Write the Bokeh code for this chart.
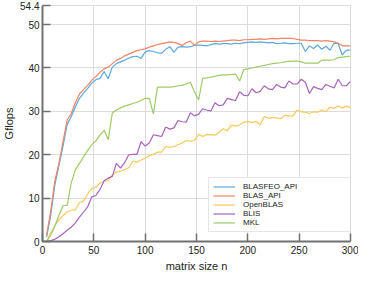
from bokeh.plotting import figure
from bokeh.models import FixedTicker, CustomJSTickFormatter, Legend, LegendItem, Title
from bokeh.embed import file_html
from bokeh.resources import INLINE

n = list(range(4, 301, 4))

blasfeo_api = [1.0, 6.0, 13.0, 17.5, 22.0, 27.0, 28.8, 31.0, 33.0, 34.2,
               35.3, 36.5, 37.3, 37.6, 39.2, 37.5, 40.2, 41.0, 41.4, 41.8,
               42.3, 42.6, 42.7, 42.2, 43.7, 44.0, 43.8, 43.5, 43.4, 44.3,
               44.9, 43.6, 44.8, 44.9, 44.8, 44.9, 45.2, 45.3, 45.2, 45.1,
               45.4, 45.6, 45.5, 45.6, 45.6, 45.5, 45.7, 45.6, 45.8, 45.9,
               46.0, 45.9, 46.0, 45.9, 45.8, 45.9, 45.6, 45.7, 45.8, 45.6,
               45.6, 45.7, 45.7, 43.8, 45.1, 44.5, 45.3, 44.3, 45.0, 44.1,
               45.7, 45.6, 43.0, 44.1, 44.1]

blas_api = [1.5, 7.0, 14.0, 18.0, 23.0, 28.0, 29.5, 32.0, 34.0, 35.0,
            36.0, 37.2, 38.0, 39.0, 39.8, 40.2, 41.0, 41.8, 42.2, 42.8,
            43.2, 43.6, 44.0, 44.2, 44.4, 44.8, 45.1, 45.4, 45.6, 45.8,
            46.0, 45.9, 45.6, 45.2, 45.8, 46.2, 45.2, 46.0, 46.2, 46.2,
            46.1, 46.2, 46.1, 46.2, 46.3, 46.4, 46.4, 46.3, 46.5, 46.5,
            46.6, 46.6, 46.7, 46.6, 46.7, 46.8, 46.7, 46.8, 46.8, 46.8,
            46.8, 46.6, 46.4, 46.4, 46.3, 46.3, 46.3, 46.2, 46.3, 46.2,
            46.0, 45.7, 45.1, 45.1, 45.1]

openblas = [0.0, 2.0, 3.7, 5.0, 6.0, 6.8, 7.2, 7.3, 9.0, 9.3,
            11.0, 12.2, 12.5, 13.5, 13.9, 14.0, 15.3, 16.0, 16.2, 16.6,
            17.0, 18.5, 18.3, 18.8, 19.2, 19.8, 20.1, 20.6, 20.6, 21.9,
            21.7, 21.9, 22.3, 22.7, 23.3, 23.1, 23.3, 24.7, 24.2, 24.7,
            24.6, 24.5, 25.2, 26.0, 25.5, 26.9, 26.6, 26.9, 27.5, 27.7,
            27.4, 27.7, 26.9, 28.8, 28.4, 28.6, 28.5, 28.3, 29.1, 28.9,
            29.0, 30.3, 29.9, 29.8, 29.5, 29.9, 29.8, 30.3, 29.9, 31.0,
            30.7, 31.2, 30.8, 31.2, 30.8]

blis = [0.0, 0.2, 0.5, 1.1, 1.8, 2.6, 3.3, 4.3, 5.6, 6.8,
        8.0, 10.3, 10.6, 12.0, 14.0, 14.6, 15.0, 18.0, 16.9, 18.2,
        20.0, 20.1, 20.1, 23.0, 22.0, 22.7, 24.6, 24.4, 24.2, 26.4,
        25.9, 26.2, 27.9, 27.6, 27.5, 29.7, 29.0, 29.3, 30.6, 30.3,
        30.1, 32.0, 31.3, 31.5, 33.0, 32.7, 32.5, 34.5, 33.7, 33.6,
        35.2, 34.3, 34.6, 35.9, 35.2, 35.0, 36.2, 35.6, 35.4, 37.0,
        36.3, 36.3, 37.4, 36.7, 34.1, 35.7, 35.3, 35.0, 36.2, 35.8,
        35.4, 37.4, 35.9, 35.9, 36.9]

mkl = [0.0, 1.5, 3.5, 6.0, 8.3, 8.3, 13.5, 16.5, 18.0, 19.5,
       21.0, 22.3, 23.2, 24.5, 25.7, 23.5, 29.6, 30.3, 30.8, 31.2,
       31.5, 31.8, 32.1, 32.5, 33.0, 33.0, 29.4, 35.6, 35.6, 35.6,
       35.6, 35.7, 35.9, 36.0, 36.3, 36.7, 34.5, 32.6, 37.6, 37.7,
       37.9, 38.1, 38.3, 38.4, 38.4, 38.5, 38.6, 37.0, 39.6, 39.8,
       40.0, 40.2, 40.4, 40.6, 40.8, 41.0, 41.1, 41.2, 41.4, 41.5,
       41.6, 41.6, 41.4, 41.1, 41.1, 41.1, 41.1, 41.8, 41.8, 41.8,
       41.9, 42.4, 42.5, 42.6, 42.7]

series_names = ["BLASFEO_API", "BLAS_API", "OpenBLAS", "BLIS", "MKL"]
series_values = [blasfeo_api, blas_api, openblas, blis, mkl]
series_colors = ["#5aa9e0", "#f08463", "#f8c95c", "#a863bd", "#9dcb66"]

x_ticks = [0, 50, 100, 150, 200, 250, 300]
y_ticks = [0, 10, 20, 30, 40, 50, 54.4]
x_title = "matrix size n"
y_title = "Gflops"

FONT = "Liberation Sans"

p = figure(width=358, height=272, x_range=(0, 300), y_range=(0, 54.4),
           output_backend="svg", toolbar_location=None,
           min_border_top=5, min_border_right=8, min_border_left=0, min_border_bottom=0)
p.background_fill_color = "white"
p.border_fill_color = "white"
p.outline_line_color = "#dcdcdc"
p.outline_line_width = 1

items = []
for name, vals, col in zip(series_names, series_values, series_colors):
    r = p.line(n, vals, line_color=col, line_width=1.2)
    items.append(LegendItem(label=name, renderers=[r]))

fmt = CustomJSTickFormatter(code="return String(Math.round(tick*10)/10);")
for ax, ticks in ((p.xaxis[0], x_ticks), (p.yaxis[0], y_ticks)):
    ax.ticker = FixedTicker(ticks=ticks)
    ax.formatter = fmt
    ax.major_tick_in = 8
    ax.major_tick_out = 0
    ax.minor_tick_line_color = None
    ax.axis_line_color = "#707070"
    ax.axis_line_width = 2
    ax.major_tick_line_color = "#707070"
    ax.major_tick_line_width = 1.5
    ax.major_label_text_font = FONT
    ax.major_label_text_font_size = "10px"
    ax.major_label_text_color = "#222222"
    ax.axis_label_text_font = FONT
    ax.axis_label_text_font_size = "11px"
    ax.axis_label_text_font_style = "normal"
    ax.axis_label_text_color = "#222222"

p.yaxis.axis_label = y_title
p.xaxis.major_label_standoff = 4
p.yaxis.major_label_standoff = 3
p.yaxis.axis_label_standoff = 2

xlabel = Title(text=x_title, align="center", text_font=FONT,
               text_font_size="11px", text_font_style="normal",
               text_color="#222222", standoff=2, offset=0)
p.add_layout(xlabel, "below")

p.xgrid.ticker = FixedTicker(ticks=x_ticks)
p.ygrid.ticker = FixedTicker(ticks=y_ticks)
p.grid.grid_line_color = "#dcdcdc"
p.grid.grid_line_width = 1

legend = Legend(items=items, location=(166, 9),
                label_text_font=FONT, label_text_font_size="8px",
                label_text_color="#222222",
                label_height=9, glyph_height=9, glyph_width=22,
                label_standoff=8, label_width=132, spacing=0, padding=4,
                border_line_color="#cccccc", border_line_width=1,
                background_fill_color="white", background_fill_alpha=1)
p.add_layout(legend, "center")

open("out.html", "w").write(file_html(p, INLINE))
